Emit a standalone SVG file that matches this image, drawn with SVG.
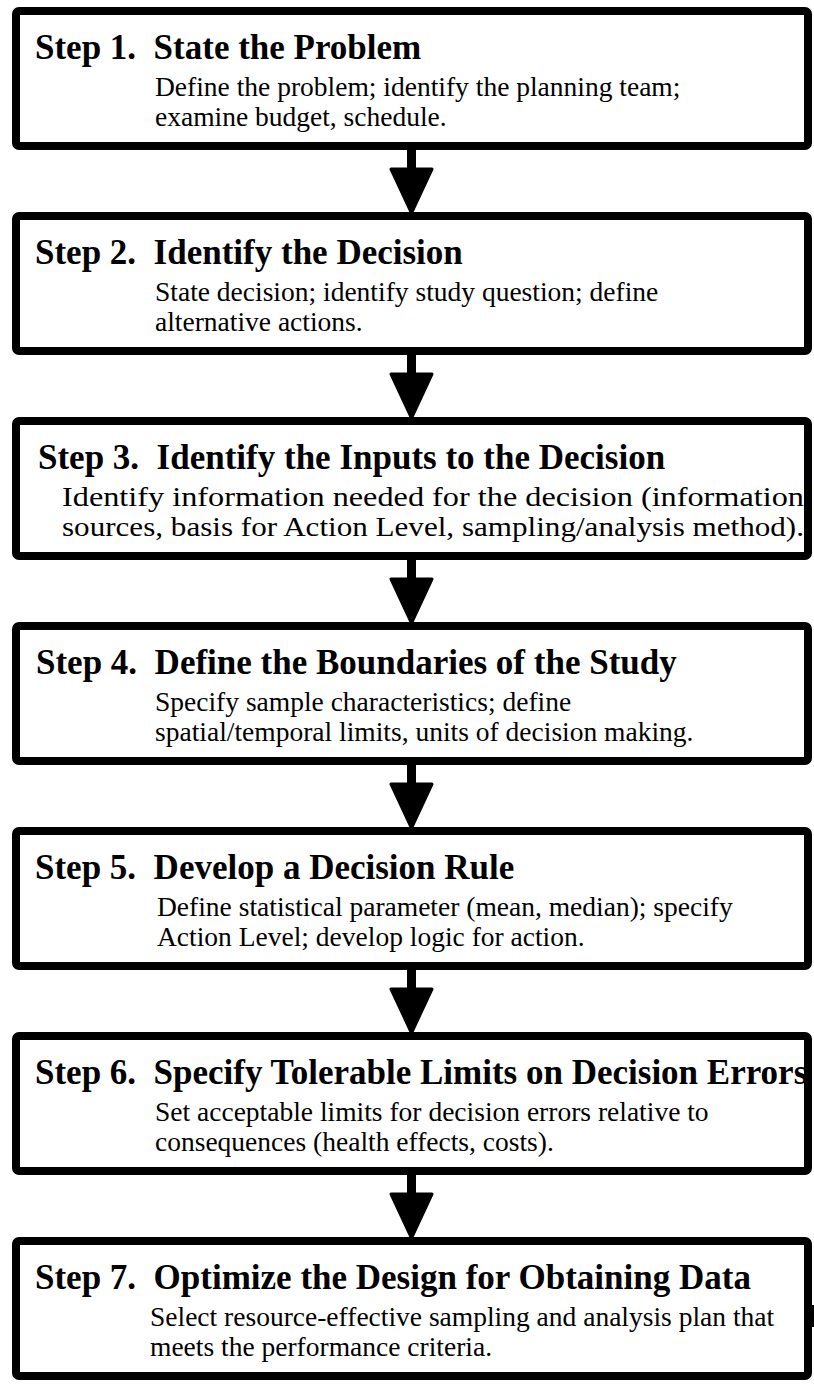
<svg xmlns="http://www.w3.org/2000/svg" width="814" height="1388" viewBox="0 0 814 1388">
<style>
.box{fill:#fff;stroke:#000;stroke-width:8;rx:3}
.h{font-family:"Liberation Serif","Times New Roman",serif;font-weight:bold;font-size:35px;fill:#000}
.d{font-family:"Liberation Serif","Times New Roman",serif;font-size:27.5px;fill:#000}
.shaft{fill:#000}
.head{fill:#000;stroke:#000;stroke-width:3;stroke-linejoin:round}
</style>
<rect width="814" height="1388" fill="#fff"/>
<g id="connectors">
<g id="a1"><rect class="shaft" x="407" y="150" width="9" height="20"/><polygon class="head" points="391,169 432,169 411.5,213"/></g>
<g id="a2"><rect class="shaft" x="407" y="355" width="9" height="20"/><polygon class="head" points="391,374 432,374 411.5,418"/></g>
<g id="a3"><rect class="shaft" x="407" y="560" width="9" height="20"/><polygon class="head" points="391,579 432,579 411.5,623"/></g>
<g id="a4"><rect class="shaft" x="407" y="765" width="9" height="20"/><polygon class="head" points="391,784 432,784 411.5,828"/></g>
<g id="a5"><rect class="shaft" x="407" y="970" width="9" height="20"/><polygon class="head" points="391,989 432,989 411.5,1033"/></g>
<g id="a6"><rect class="shaft" x="407" y="1175" width="9" height="20"/><polygon class="head" points="391,1194 432,1194 411.5,1238"/></g>
</g>
<g id="step1">
<rect class="box" x="16" y="11" width="792" height="135"/>
<text class="h" x="35" y="59" xml:space="preserve">Step 1.  State the Problem</text>
<text class="d" x="155" y="96">Define the problem; identify the planning team;</text>
<text class="d" x="155" y="126">examine budget, schedule.</text>
</g>
<g id="step2">
<rect class="box" x="16" y="216" width="792" height="135"/>
<text class="h" x="35" y="264" xml:space="preserve">Step 2.  Identify the Decision</text>
<text class="d" x="155" y="301">State decision; identify study question; define</text>
<text class="d" x="155" y="331">alternative actions.</text>
</g>
<g id="step3">
<rect class="box" x="16" y="421" width="792" height="135"/>
<text class="h" x="38" y="469" xml:space="preserve">Step 3.  Identify the Inputs to the Decision</text>
<text class="d" x="62" y="506" textLength="742" lengthAdjust="spacingAndGlyphs">Identify information needed for the decision (information</text>
<text class="d" x="62" y="536" textLength="742" lengthAdjust="spacingAndGlyphs">sources, basis for Action Level, sampling/analysis method).</text>
</g>
<g id="step4">
<rect class="box" x="16" y="626" width="792" height="135"/>
<text class="h" x="36" y="674" xml:space="preserve">Step 4.  Define the Boundaries of the Study</text>
<text class="d" x="155" y="711">Specify sample characteristics; define</text>
<text class="d" x="155" y="741">spatial/temporal limits, units of decision making.</text>
</g>
<g id="step5">
<rect class="box" x="16" y="831" width="792" height="135"/>
<text class="h" x="35" y="879" xml:space="preserve">Step 5.  Develop a Decision Rule</text>
<text class="d" x="157" y="916">Define statistical parameter (mean, median); specify</text>
<text class="d" x="157" y="946">Action Level; develop logic for action.</text>
</g>
<g id="step6">
<rect class="box" x="16" y="1036" width="792" height="135"/>
<text class="h" x="35" y="1084" xml:space="preserve">Step 6.  Specify Tolerable Limits on Decision Errors</text>
<text class="d" x="155" y="1121">Set acceptable limits for decision errors relative to</text>
<text class="d" x="155" y="1151">consequences (health effects, costs).</text>
</g>
<g id="step7">
<rect class="box" x="16" y="1241" width="792" height="135"/>
<text class="h" x="35" y="1289" xml:space="preserve">Step 7.  Optimize the Design for Obtaining Data</text>
<text class="d" x="150" y="1326">Select resource-effective sampling and analysis plan that</text>
<text class="d" x="150" y="1356">meets the performance criteria.</text>
<rect x="810" y="1305" width="4" height="22" fill="#000"/>
</g>
</svg>
